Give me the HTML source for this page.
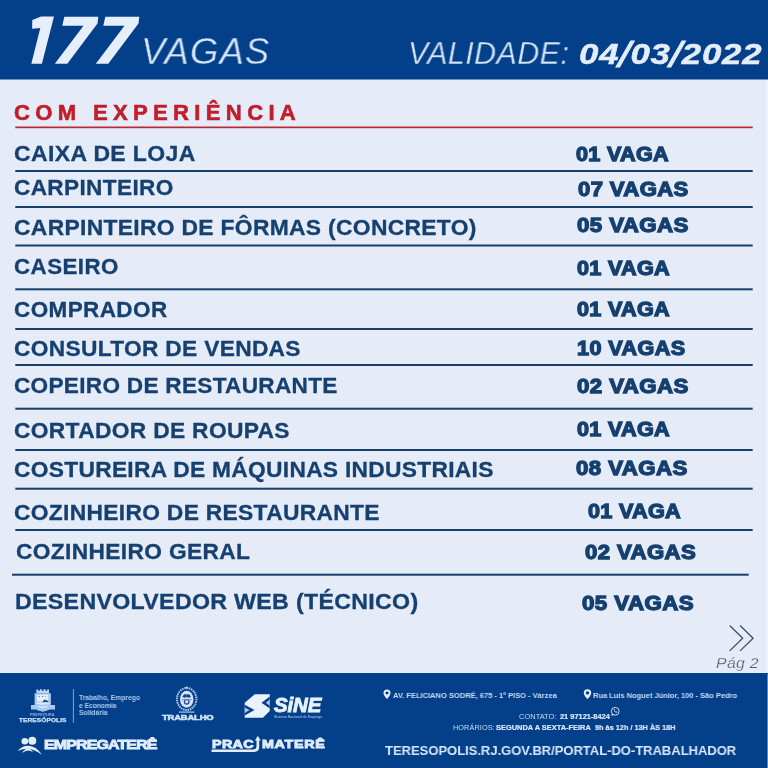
<!DOCTYPE html>
<html><head><meta charset="utf-8"><title>Vagas</title>
<style>
html,body{margin:0;padding:0;}
body{width:768px;height:768px;position:relative;overflow:hidden;background:#e5ecf8;font-family:"Liberation Sans",sans-serif;}
.hdr{position:absolute;left:0;top:0;width:768px;height:79px;background:#04408a;}
.ftr{position:absolute;left:0;top:673px;width:768px;height:95px;background:#04408a;}
.t{position:absolute;white-space:nowrap;line-height:1;transform-origin:0 0;display:block;will-change:transform;}
.sl{font-size:1.24em;line-height:0;position:relative;top:0.075em;font-weight:400;margin:0 -0.02em;-webkit-text-stroke:1px #e4edfa;}
.ln{position:absolute;height:2px;background:#173f6c;}
#hvag{left:140.60px;top:32.63px;font-size:37.06px;font-weight:400;font-style:italic;color:#d6e5f8;letter-spacing:1.175px;transform:scaleX(0.9842);-webkit-text-stroke:0.35px #04408a;}
#hval{left:407.55px;top:38.99px;font-size:30.96px;font-weight:400;font-style:italic;color:#d6e5f8;letter-spacing:0.471px;transform:scaleX(0.9823);-webkit-text-stroke:0.3px #04408a;}
#hdat{left:578.80px;top:39.99px;font-size:28.95px;font-weight:700;font-style:italic;color:#e4edfa;letter-spacing:0.693px;transform:scaleX(1.1999);-webkit-text-stroke:0.5px #e4edfa;}
#ttl{left:14.04px;top:101.60px;font-size:22.09px;font-weight:700;font-style:normal;color:#c21d2b;letter-spacing:5.320px;transform:scaleX(1.0000);-webkit-text-stroke:0.6px #c21d2b;}
#l0{left:14.36px;top:144.09px;font-size:21.37px;font-weight:700;font-style:normal;color:#15406f;letter-spacing:0.361px;transform:scaleX(1.0762);-webkit-text-stroke:0.3px #15406f;}
#v0{left:576.00px;top:144.76px;font-size:19.84px;font-weight:700;font-style:normal;color:#15406f;letter-spacing:0.296px;transform:scaleX(1.0879);-webkit-text-stroke:1.3px #15406f;}
#l1{left:14.37px;top:177.34px;font-size:21.22px;font-weight:700;font-style:normal;color:#15406f;letter-spacing:0.352px;transform:scaleX(1.0641);-webkit-text-stroke:0.3px #15406f;}
#v1{left:577.70px;top:179.23px;font-size:19.98px;font-weight:700;font-style:normal;color:#15406f;letter-spacing:0.352px;transform:scaleX(1.1053);-webkit-text-stroke:1.3px #15406f;}
#l2{left:14.37px;top:218.09px;font-size:21.37px;font-weight:700;font-style:normal;color:#15406f;letter-spacing:0.282px;transform:scaleX(1.0705);-webkit-text-stroke:0.3px #15406f;}
#v2{left:577.30px;top:215.23px;font-size:19.98px;font-weight:700;font-style:normal;color:#15406f;letter-spacing:0.381px;transform:scaleX(1.1141);-webkit-text-stroke:1.3px #15406f;}
#l3{left:14.38px;top:257.43px;font-size:21.37px;font-weight:700;font-style:normal;color:#15406f;letter-spacing:0.419px;transform:scaleX(1.0462);-webkit-text-stroke:0.3px #15406f;}
#v3{left:577.30px;top:258.23px;font-size:19.98px;font-weight:700;font-style:normal;color:#15406f;letter-spacing:0.279px;transform:scaleX(1.0820);-webkit-text-stroke:1.3px #15406f;}
#l4{left:14.38px;top:298.66px;font-size:21.22px;font-weight:700;font-style:normal;color:#15406f;letter-spacing:0.393px;transform:scaleX(1.0591);-webkit-text-stroke:0.3px #15406f;}
#v4{left:577.30px;top:300.30px;font-size:19.84px;font-weight:700;font-style:normal;color:#15406f;letter-spacing:0.296px;transform:scaleX(1.0879);-webkit-text-stroke:1.3px #15406f;}
#l5{left:14.37px;top:338.71px;font-size:21.37px;font-weight:700;font-style:normal;color:#15406f;letter-spacing:0.291px;transform:scaleX(1.0648);-webkit-text-stroke:0.3px #15406f;}
#v5{left:577.30px;top:338.76px;font-size:19.84px;font-weight:700;font-style:normal;color:#15406f;letter-spacing:0.401px;transform:scaleX(1.0879);-webkit-text-stroke:1.3px #15406f;}
#l6{left:14.37px;top:375.71px;font-size:21.37px;font-weight:700;font-style:normal;color:#15406f;letter-spacing:0.269px;transform:scaleX(1.0584);-webkit-text-stroke:0.3px #15406f;}
#v6{left:577.30px;top:376.76px;font-size:19.84px;font-weight:700;font-style:normal;color:#15406f;letter-spacing:0.397px;transform:scaleX(1.1202);-webkit-text-stroke:1.3px #15406f;}
#l7{left:14.37px;top:421.09px;font-size:21.37px;font-weight:700;font-style:normal;color:#15406f;letter-spacing:0.304px;transform:scaleX(1.0666);-webkit-text-stroke:0.3px #15406f;}
#v7{left:577.30px;top:418.53px;font-size:19.98px;font-weight:700;font-style:normal;color:#15406f;letter-spacing:0.279px;transform:scaleX(1.0820);-webkit-text-stroke:1.3px #15406f;}
#l8{left:14.37px;top:459.34px;font-size:21.22px;font-weight:700;font-style:normal;color:#15406f;letter-spacing:0.275px;transform:scaleX(1.0728);-webkit-text-stroke:0.3px #15406f;}
#v8{left:576.00px;top:458.76px;font-size:19.84px;font-weight:700;font-style:normal;color:#15406f;letter-spacing:0.395px;transform:scaleX(1.1194);-webkit-text-stroke:1.3px #15406f;}
#l9{left:14.37px;top:502.71px;font-size:21.37px;font-weight:700;font-style:normal;color:#15406f;letter-spacing:0.277px;transform:scaleX(1.0685);-webkit-text-stroke:0.3px #15406f;}
#v9{left:588.00px;top:500.53px;font-size:19.98px;font-weight:700;font-style:normal;color:#15406f;letter-spacing:0.279px;transform:scaleX(1.0820);-webkit-text-stroke:1.3px #15406f;}
#l10{left:16.01px;top:541.34px;font-size:21.22px;font-weight:700;font-style:normal;color:#15406f;letter-spacing:0.324px;transform:scaleX(1.0717);-webkit-text-stroke:0.3px #15406f;}
#v10{left:585.30px;top:542.76px;font-size:19.84px;font-weight:700;font-style:normal;color:#15406f;letter-spacing:0.379px;transform:scaleX(1.1145);-webkit-text-stroke:1.3px #15406f;}
#l11{left:14.96px;top:591.08px;font-size:21.80px;font-weight:700;font-style:normal;color:#15406f;letter-spacing:0.291px;transform:scaleX(1.0640);-webkit-text-stroke:0.3px #15406f;}
#v11{left:582.00px;top:593.23px;font-size:19.98px;font-weight:700;font-style:normal;color:#15406f;letter-spacing:0.388px;transform:scaleX(1.1165);-webkit-text-stroke:1.3px #15406f;}
#fpre{left:30.20px;top:713.52px;font-size:3.05px;font-weight:700;font-style:normal;color:#8db4e6;letter-spacing:0.106px;transform:scaleX(1.2000);}
#fter{left:19.30px;top:717.09px;font-size:6.08px;font-weight:700;font-style:normal;color:#d0e2f8;letter-spacing:0.082px;transform:scaleX(1.0776);-webkit-text-stroke:0.25px #d0e2f8;}
#fs1{left:78.50px;top:694.15px;font-size:7.27px;font-weight:700;font-style:normal;color:#a8c8f1;letter-spacing:-0.062px;transform:scaleX(0.9410);}
#fs2{left:78.50px;top:701.85px;font-size:7.27px;font-weight:700;font-style:normal;color:#a8c8f1;letter-spacing:-0.077px;transform:scaleX(0.9340);}
#fs3{left:78.50px;top:709.35px;font-size:7.27px;font-weight:700;font-style:normal;color:#a8c8f1;letter-spacing:-0.058px;transform:scaleX(0.9412);}
#ftra{left:161.80px;top:714.25px;font-size:7.27px;font-weight:700;font-style:normal;color:#d0e4fa;letter-spacing:-0.148px;transform:scaleX(1.3000);-webkit-text-stroke:0.5px #d0e4fa;}
#fsin{left:273.50px;top:696.04px;font-size:19.62px;font-weight:700;font-style:italic;color:#e8f1fc;letter-spacing:-0.139px;transform:scaleX(1.0423);-webkit-text-stroke:0.9px #e8f1fc;}
#fsub{left:274.00px;top:716.18px;font-size:3.05px;font-weight:700;font-style:normal;color:#8fb6ea;letter-spacing:0.033px;transform:scaleX(1.0812);}
#femp{left:44.30px;top:738.43px;font-size:13.08px;font-weight:700;font-style:normal;color:#e1ecfb;letter-spacing:-0.703px;transform:scaleX(1.2200);-webkit-text-stroke:0.9px #e1ecfb;}
#fpra{left:212.30px;top:740.08px;font-size:10.23px;font-weight:700;font-style:normal;color:#e1ecfb;letter-spacing:0.262px;transform:scaleX(1.4000);-webkit-text-stroke:0.8px #e1ecfb;}
#fmat{left:261.50px;top:740.08px;font-size:10.23px;font-weight:700;font-style:normal;color:#e1ecfb;letter-spacing:0.476px;transform:scaleX(1.4000);-webkit-text-stroke:0.8px #e1ecfb;}
#fa1{left:393.00px;top:691.88px;font-size:7.70px;font-weight:700;font-style:normal;color:#c8dcf7;letter-spacing:-0.019px;transform:scaleX(0.9816);}
#fa2{left:593.25px;top:691.66px;font-size:7.85px;font-weight:700;font-style:normal;color:#c8dcf7;letter-spacing:-0.038px;transform:scaleX(0.9624);}
#fc1{left:519.00px;top:712.77px;font-size:7.41px;font-weight:400;font-style:normal;color:#c8dcf7;letter-spacing:0.012px;transform:scaleX(1.0094);}
#fc2{left:559.75px;top:712.77px;font-size:7.41px;font-weight:700;font-style:normal;color:#dbe8fa;letter-spacing:-0.002px;transform:scaleX(0.9979);-webkit-text-stroke:0.2px #dbe8fa;}
#fh1{left:453.00px;top:723.59px;font-size:7.34px;font-weight:400;font-style:normal;color:#c8dcf7;letter-spacing:0.064px;transform:scaleX(0.9963);}
#fh2{left:495.50px;top:723.59px;font-size:7.34px;font-weight:700;font-style:normal;color:#dbe8fa;letter-spacing:0.013px;transform:scaleX(1.0114);-webkit-text-stroke:0.2px #dbe8fa;}
#fh3{left:595.00px;top:723.59px;font-size:7.34px;font-weight:700;font-style:normal;color:#dbe8fa;letter-spacing:-0.003px;transform:scaleX(0.9972);-webkit-text-stroke:0.2px #dbe8fa;}
#furl{left:384.75px;top:743.87px;font-size:13.44px;font-weight:700;font-style:normal;color:#d8e7fa;letter-spacing:-0.060px;transform:scaleX(0.9728);}
#fpag{left:716.28px;top:654.76px;font-size:15.41px;font-weight:400;font-style:italic;color:#4f5a6e;letter-spacing:0.318px;transform:scaleX(1.0266);-webkit-text-stroke:0.25px #e5ecf8;}
</style></head><body>
<div class="hdr"></div>
<svg style="position:absolute;left:0;top:0" width="160" height="79" viewBox="0 0 160 79"><g fill="#e6eefa"><polygon points="32.3,20.1 41.1,16.4 54,16.4 41.9,63.8 31.3,63.8 40.3,28 32.1,28.8"/><polygon points="64.3,16.7 98.3,16.7 97.5,23.5 67.3,63.8 54.8,63.8 83.5,25.7 62.3,25.7"/><polygon points="105.3,16.7 139.3,16.7 138.5,23.5 108.3,63.8 95.8,63.8 124.5,25.7 103.3,25.7"/></g></svg>

<div style="position:absolute;left:0;top:79px;width:768px;height:1px;background:#6f92c2"></div><div style="position:absolute;left:766px;top:80px;width:2px;height:593px;background:#edf1f9"></div>
<svg style="position:absolute;left:0;top:0" width="768" height="768"><g fill="#173f6c"><rect x="15.3" y="170.00" width="737.4" height="2"/><rect x="15.3" y="206.00" width="737.4" height="2"/><rect x="15.3" y="244.50" width="737.4" height="2"/><rect x="15.3" y="288.30" width="737.4" height="2"/><rect x="15.3" y="328.00" width="737.4" height="2"/><rect x="15.3" y="364.00" width="737.4" height="2"/><rect x="15.3" y="407.70" width="737.4" height="2"/><rect x="15.3" y="449.00" width="737.4" height="2"/><rect x="15.3" y="487.70" width="737.4" height="2"/><rect x="15.3" y="529.00" width="737.4" height="2"/><rect x="12" y="573.70" width="736.7" height="2"/></g><rect x="15.3" y="126.5" width="737.4" height="1.7" fill="#bb2836"/></svg>
<div class="ftr"></div><div style="position:absolute;left:767px;top:674px;width:1px;height:94px;background:#4f86d8"></div>
<svg style="position:absolute;left:0;top:0" width="768" height="768" viewBox="0 0 768 768">
<!-- chevrons -->
<g fill="none" stroke="#3f4d69" stroke-width="1.3" stroke-linecap="butt" stroke-linejoin="miter">
<polyline points="729.7,625.5 742.7,638.2 729.7,650.9"/>
<polyline points="740.1,625.5 753.1,638.2 740.1,650.9"/>
</g>
<!-- divider -->
<rect x="72.9" y="689" width="0.9" height="33.7" fill="#86b2ea"/>
<!-- Teresopolis crest -->
<g>
<path d="M36.4,693.2 V689.5 H38.2 V690.8 H39.9 V689.3 H41.8 V690.8 H43.6 V689.3 H45.5 V690.8 H47.2 V689.5 H49 V693.2 Z" fill="#bfd7f5"/>
<path d="M34.6,693.2 H50.9 V703.8 Q50.9,709.8 42.75,711.7 Q34.6,709.8 34.6,703.8 Z" fill="#a9c9f0"/>
<rect x="36.9" y="694.6" width="11.4" height="6.9" fill="#e6effb"/>
<circle cx="39.3" cy="696.4" r="0.55" fill="#3a66a8"/><circle cx="42.6" cy="696.4" r="0.6" fill="#3a66a8"/><circle cx="45.8" cy="696.4" r="0.5" fill="#5b82bd"/>
<path d="M42.2,701.9 L44.5,699.6 L48.3,701 V702.3 H42.2 Z" fill="#1c4b92"/>
<path d="M36.6,702.6 H48.8 V704.1 Q42.7,705.3 36.6,704.100 Z" fill="#dfeafa"/>
<path d="M31,705 H36.600 Q38,709.500 42.750,709.5 Q47.500,709.500 49,705 H55 V709.400 H49.800 Q46.500,711.2 42.750,711.200 Q39,711.200 35.700,709.400 H31 Z" fill="#a6c8f2"/>
<path d="M37.800,706 Q42.750,707.600 47.700,706 L47.300,707.200 Q42.750,708.700 38.200,707.200 Z" fill="#e3edfb"/>
</g>
<!-- RJ crest -->
<g>
<ellipse cx="186.7" cy="699" rx="9.7" ry="11" fill="none" stroke="#a9c8f0" stroke-width="2.1" stroke-dasharray="1.5 0.8"/>
<ellipse cx="186.7" cy="699.2" rx="6.7" ry="8.5" fill="#d5e4f9"/>
<path d="M182.300,696.800 q2.200,-4.500 4.400,-2 q2.200,-2.500 4.400,2 q-2.200,1.500 -4.400,0.300 q-2.200,1.200 -4.400,-0.300 z" fill="#1b4a92"/>
<circle cx="186.7" cy="701.8" r="2.9" fill="#1b4a92"/><circle cx="186.7" cy="701.8" r="1.7" fill="#cfe0f8"/>
<path d="M181.5,699.300 h10.400 v0.900 h-10.400 z" fill="#5a84c0"/>
<circle cx="186.7" cy="687.5" r="1.100" fill="#c9ddf7"/>
<rect x="178.9" y="711.400" width="15.600" height="1.400" fill="#8fb5ea"/>
</g>
<!-- SINE icon -->
<g>
<polygon points="254.75,694.2 269.75,694.2 269.75,711 262.9,717.8 244.75,717.8 244.75,702.7" fill="#eaf2fc"/>
<polygon points="269.75,696.5 261.5,702.7 269.75,708.6" fill="#0a3f8a"/>
<polygon points="269.75,699.5 265.8,702.7 269.75,705.7" fill="#a9c6ee"/>
<polygon points="244.75,704.8 254.5,710 244.75,715.6" fill="#0a3f8a"/>
<polygon points="244.75,707.4 249.7,710.1 244.75,713" fill="#a9c6ee"/>
</g>
<!-- Empregatere icon -->
<g fill="#e4eefb">
<circle cx="24.8" cy="741.3" r="3.3"/>
<circle cx="32.3" cy="740.7" r="4"/>
<path d="M17.300,751 Q22.500,745.600 28.500,745.700 Q36,745.900 42,754.800 Q35,749.800 28.500,748.700 Q23,748.600 17.300,751 Z"/>
<path d="M21.600,753 Q25.300,748.400 28.600,748 Q31.200,749.200 33.400,752.600 Q30.300,750.700 28.300,750.500 Q25.500,750.600 21.600,753 Z"/>
</g>
<!-- Pracimatere underline + arrow -->
<g fill="#e1ecfb">
<path d="M211.5,749.500 H253 Q256.500,749.500 256.500,746.500 V740.400 H254.900 L257.800,735.800 L260.700,740.400 H259.200 V747 Q259.200,751.900 254,751.900 H211.500 Z"/>
</g>
<!-- pins -->
<g fill="#e6effb">
<path d="M387,689.5 a3.5,3.5 0 0 1 3.5,3.5 c0,2.4 -3.5,6 -3.5,6 c0,0 -3.5,-3.6 -3.5,-6 a3.5,3.5 0 0 1 3.5,-3.500 z M387,691.4 a1.6,1.6 0 1 0 0.001,0 z" fill-rule="evenodd"/>
<path d="M587.5,689.2 a3.7,3.7 0 0 1 3.7,3.7 c0,2.5 -3.7,6.1 -3.7,6.1 c0,0 -3.7,-3.6 -3.7,-6.1 a3.7,3.7 0 0 1 3.7,-3.700 z M587.500,691.2 a1.700,1.700 0 1 0 0.001,0 z" fill-rule="evenodd"/>
</g>
<!-- whatsapp -->
<g>
<circle cx="615.2" cy="711.3" r="3.9" fill="none" stroke="#e0ebfa" stroke-width="0.9"/>
<path d="M611.3,716 l0.8,-2.6 l1.7,1.6 z" fill="#e0ebfa"/>
<path d="M613.6,709.6 q0.3,2.6 3,3.2 l0.700,-0.8 l-1,-0.700 l-0.500,0.400 q-0.900,-0.500 -1.200,-1.300 l0.400,-0.500 l-0.600,-1 z" fill="#e0ebfa"/>
</g>
</svg>

<span class="t" id="hvag">VAGAS</span>
<span class="t" id="hval">VALIDADE:</span>
<span class="t" id="hdat">04<span class="sl">/</span>03<span class="sl">/</span>2022</span>
<span class="t" id="ttl">COM EXPERIÊNCIA</span>
<span class="t" id="l0">CAIXA DE LOJA</span>
<span class="t" id="v0">01 VAGA</span>
<span class="t" id="l1">CARPINTEIRO</span>
<span class="t" id="v1">07 VAGAS</span>
<span class="t" id="l2">CARPINTEIRO DE FÔRMAS (CONCRETO)</span>
<span class="t" id="v2">05 VAGAS</span>
<span class="t" id="l3">CASEIRO</span>
<span class="t" id="v3">01 VAGA</span>
<span class="t" id="l4">COMPRADOR</span>
<span class="t" id="v4">01 VAGA</span>
<span class="t" id="l5">CONSULTOR DE VENDAS</span>
<span class="t" id="v5">10 VAGAS</span>
<span class="t" id="l6">COPEIRO DE RESTAURANTE</span>
<span class="t" id="v6">02 VAGAS</span>
<span class="t" id="l7">CORTADOR DE ROUPAS</span>
<span class="t" id="v7">01 VAGA</span>
<span class="t" id="l8">COSTUREIRA DE MÁQUINAS INDUSTRIAIS</span>
<span class="t" id="v8">08 VAGAS</span>
<span class="t" id="l9">COZINHEIRO DE RESTAURANTE</span>
<span class="t" id="v9">01 VAGA</span>
<span class="t" id="l10">COZINHEIRO GERAL</span>
<span class="t" id="v10">02 VAGAS</span>
<span class="t" id="l11">DESENVOLVEDOR WEB (TÉCNICO)</span>
<span class="t" id="v11">05 VAGAS</span>
<span class="t" id="fpre">PREFEITURA</span>
<span class="t" id="fter">TERESÓPOLIS</span>
<span class="t" id="fs1">Trabalho, Emprego</span>
<span class="t" id="fs2">e Economia</span>
<span class="t" id="fs3">Solidária</span>
<span class="t" id="ftra">TRABALHO</span>
<span class="t" id="fsin">SiNE</span>
<span class="t" id="fsub">Sistema Nacional de Emprego</span>
<span class="t" id="femp">EMPREGATERÊ</span>
<span class="t" id="fpra">PRAC</span>
<span class="t" id="fmat">MATERÊ</span>
<span class="t" id="fa1">AV. FELICIANO SODRÉ, 675 - 1º PISO - Várzea</span>
<span class="t" id="fa2">Rua Luís Noguet Júnior, 100 - São Pedro</span>
<span class="t" id="fc1">CONTATO:</span>
<span class="t" id="fc2">21 97121-8424</span>
<span class="t" id="fh1">HORÁRIOS:</span>
<span class="t" id="fh2">SEGUNDA A SEXTA-FEIRA</span>
<span class="t" id="fh3">9h às 12h / 13H ÀS 18H</span>
<span class="t" id="furl">TERESOPOLIS.RJ.GOV.BR/PORTAL-DO-TRABALHADOR</span>
<span class="t" id="fpag">Pág 2</span>
</body></html>
